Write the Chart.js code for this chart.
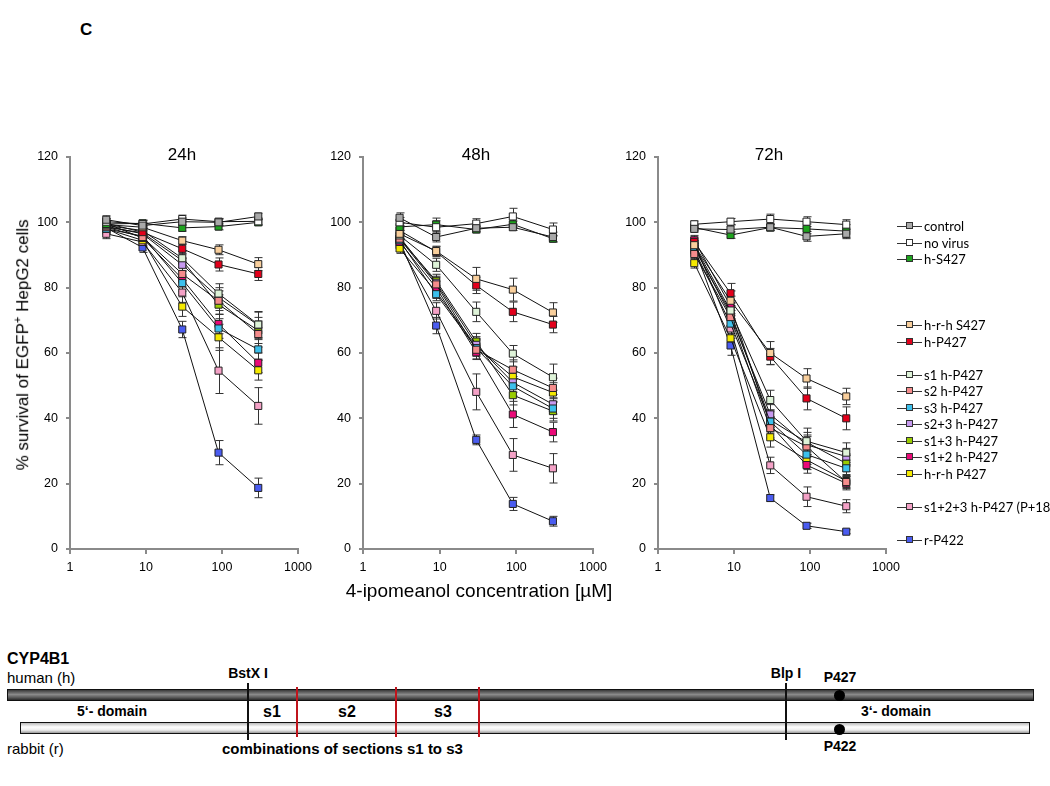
<!DOCTYPE html>
<html>
<head>
<meta charset="utf-8">
<title>4-ipomeanol survival</title>
<script src="https://cdn.jsdelivr.net/npm/chart.js@4.4.1/dist/chart.umd.min.js"></script>
<style>
  html, body { margin: 0; padding: 0; background: #fff; }
  body { width: 1050px; height: 786px; position: relative; overflow: hidden;
         font-family: "Liberation Sans", Arial, sans-serif; color: #000; }
  canvas { position: absolute; }
  .abs { position: absolute; white-space: nowrap; }
  .panel-title { font-size: 17px; width: 100px; text-align: center; }
  .bold { font-weight: bold; }
  #legend { position: absolute; left: 897px; top: 218px; font-family: Lato, "Open Sans", sans-serif; font-size: 13px; }
  .lg-item { position: absolute; left: 0; height: 16px; line-height: 16px; white-space: nowrap; }
  .lg-sym { position: absolute; left: 0; top: 8px; width: 25px; height: 1px; background: #333; }
  .lg-box { position: absolute; left: 9px; top: -4px; width: 7px; height: 7px; border: 1px solid #333; box-sizing: border-box; }
  .lg-text { position: absolute; left: 27px; top: 0; white-space: nowrap; }
  .bar { position: absolute; border: 1px solid #111; box-sizing: border-box; }
  .vline { position: absolute; width: 2px; background: #111; }
  .rline { position: absolute; width: 2px; background: #c0141c; }
  .dot { position: absolute; width: 11px; height: 11px; border-radius: 50%; background: #000; }
</style>
</head>
<body>
<div class="abs bold" style="left:80px;top:20px;font-size:17px;">C</div>

<canvas id="c24" width="320" height="450" style="left:0px;top:140px;"></canvas>
<canvas id="c48" width="310" height="450" style="left:305px;top:140px;"></canvas>
<canvas id="c72" width="308" height="450" style="left:600px;top:140px;"></canvas>

<div class="abs panel-title" style="left:132px;top:145px;">24h</div>
<div class="abs panel-title" style="left:426px;top:145px;">48h</div>
<div class="abs panel-title" style="left:719px;top:145px;">72h</div>

<div class="abs" style="left:-178px;top:334px;width:400px;text-align:center;font-size:17px;transform:rotate(-90deg);">% survival of EGFP<sup style="font-size:11px;">+</sup> HepG2 cells</div>
<div class="abs" style="left:279px;top:580px;width:400px;text-align:center;font-size:19px;">4-ipomeanol concentration [µM]</div>

<div id="legend"></div>

<!-- CYP4B1 construct diagram -->
<div class="abs bold" style="left:7px;top:650px;font-size:16px;">CYP4B1</div>
<div class="abs" style="left:7px;top:669px;font-size:15px;">human (h)</div>
<div class="abs" style="left:7px;top:740px;font-size:15px;">rabbit (r)</div>
<div class="bar" style="left:7px;top:689px;width:1027px;height:12px;background:linear-gradient(#3a3a3a,#8a8a8a 45%,#5a5a5a 75%,#2a2a2a);"></div>
<div class="bar" style="left:20px;top:722px;width:1010px;height:12px;background:linear-gradient(#bbb,#fff 40%,#eee 70%,#999);"></div>
<div class="vline" style="left:247px;top:683px;height:57px;"></div>
<div class="vline" style="left:785px;top:683px;height:57px;"></div>
<div class="rline" style="left:296px;top:687px;height:50px;"></div>
<div class="rline" style="left:395px;top:687px;height:50px;"></div>
<div class="rline" style="left:478px;top:687px;height:50px;"></div>
<div class="dot" style="left:834px;top:690px;"></div>
<div class="dot" style="left:834px;top:724px;"></div>
<div class="abs bold" style="left:218px;top:665px;width:60px;text-align:center;font-size:14px;">BstX I</div>
<div class="abs bold" style="left:756px;top:665px;width:60px;text-align:center;font-size:14px;">Blp I</div>
<div class="abs bold" style="left:810px;top:669px;width:60px;text-align:center;font-size:14px;">P427</div>
<div class="abs bold" style="left:810px;top:738px;width:60px;text-align:center;font-size:14px;">P422</div>
<div class="abs bold" style="left:77px;top:703px;font-size:14px;">5‘- domain</div>
<div class="abs bold" style="left:861px;top:703px;font-size:14px;">3‘- domain</div>
<div class="abs bold" style="left:252px;top:703px;width:40px;text-align:center;font-size:16px;">s1</div>
<div class="abs bold" style="left:327px;top:703px;width:40px;text-align:center;font-size:16px;">s2</div>
<div class="abs bold" style="left:423px;top:703px;width:40px;text-align:center;font-size:16px;">s3</div>
<div class="abs bold" style="left:222px;top:740px;font-size:15px;">combinations of sections s1 to s3</div>

<script>
// concentrations (µM) and axis ticks
const conc = [3, 9, 30, 90, 300];
const xTicks = [1, 10, 100, 1000];

const seriesNames = [
  "control", "no virus", "h-S427", "h-r-h S427", "h-P427",
  "s1 h-P427", "s2 h-P427", "s3 h-P427", "s2+3 h-P427", "s1+3 h-P427",
  "s1+2 h-P427", "h-r-h P427", "s1+2+3 h-P427 (P+18)", "r-P422"
];
const seriesColors = [
  "#a9a9a9", "#ffffff", "#1ea31e", "#f9cf9c", "#e3001b",
  "#def3d8", "#f58c8c", "#3cc0ec", "#c79af0", "#99cc00",
  "#eb0a78", "#f5ea00", "#f4a1c6", "#4a5cf0"
];
// blank legend lines between groups
const legendRows = [0, 1, 2, 6, 7, 9, 10, 11, 12, 13, 14, 15, 17, 19];

// % survival, one row per series (same order as seriesNames)
const surv24 = [
  [100.8, 99.0, 100.2, 100.0, 101.8],
  [100.2, 99.5, 101.0, 100.2, 100.3],
  [99.5, 99.7, 98.3, 98.7, 100.0],
  [99.3, 98.5, 94.4, 91.6, 87.2],
  [99.7, 97.0, 91.9, 87.1, 84.2],
  [99.0, 97.5, 89.0, 78.2, 68.7],
  [98.5, 95.5, 84.2, 76.0, 65.8],
  [98.0, 95.8, 81.4, 67.5, 61.1],
  [98.8, 96.5, 87.0, 77.0, 68.5],
  [98.5, 96.8, 88.3, 74.8, 66.9],
  [99.7, 95.2, 82.7, 68.9, 57.0],
  [98.0, 94.5, 74.2, 64.8, 54.7],
  [96.5, 94.0, 78.5, 54.6, 43.8],
  [98.3, 92.3, 67.2, 29.5, 18.7]
];
const err24 = [
  [1.2, 1, 1.2, 1, 1], [1, 1, 1.2, 1, 1], [1, 1, 1, 1, 1],
  [1, 1, 1.2, 1.5, 2], [1, 1, 1.5, 2, 2], [1.5, 1.5, 2, 3, 4],
  [1.5, 1.5, 2, 3, 4], [1.5, 1.5, 2.5, 3, 3], [1.5, 1.5, 2, 3, 4],
  [1.5, 1.5, 2, 3, 4], [1.5, 1.5, 2.5, 3, 3], [1.5, 1.5, 3, 4, 3],
  [1.5, 1.5, 3, 7, 5.6], [1.5, 1.5, 2.5, 3.7, 3]
];

const surv48 = [
  [101.4, 95.5, 98.2, 98.5, 95.5],
  [100.0, 98.5, 99.6, 101.8, 97.8],
  [98.6, 99.3, 97.8, 99.4, 95.0],
  [96.5, 91.2, 82.7, 79.4, 72.4],
  [97.5, 91.0, 80.7, 72.6, 68.7],
  [96.0, 87.0, 72.6, 59.8, 52.6],
  [95.0, 81.0, 61.0, 54.9, 49.3],
  [94.5, 78.0, 61.5, 49.8, 43.0],
  [95.5, 81.5, 62.5, 51.0, 44.3],
  [95.0, 82.1, 63.5, 47.1, 42.2],
  [94.0, 80.0, 60.2, 41.2, 35.8],
  [92.0, 78.7, 62.0, 52.7, 47.9],
  [93.0, 72.9, 48.1, 28.8, 24.7],
  [94.3, 68.4, 33.4, 13.8, 8.5]
];
const err48 = [
  [1.5, 1.5, 1, 1, 1.5], [1.5, 2, 1.5, 2.5, 2], [1, 2, 1, 1, 1],
  [1.5, 1.5, 3.5, 3.5, 3], [1.5, 1.5, 2.5, 3, 2.5], [1.5, 2, 3, 2.5, 4],
  [1.5, 2, 3, 3, 3], [1.5, 2, 2.5, 3, 3], [1.5, 2, 2.5, 3, 3],
  [1.5, 2, 2.5, 3, 3], [1.5, 2, 2, 4, 3], [1.5, 2, 2.5, 3, 3],
  [2, 2.5, 5.5, 5, 4.5], [2, 2.5, 1.5, 2, 1.5]
];

const surv72 = [
  [98.0, 97.8, 98.5, 95.7, 96.5],
  [99.4, 100.2, 101.0, 100.2, 99.3],
  [98.4, 96.1, 98.4, 98.0, 97.3],
  [93.0, 76.0, 60.0, 52.2, 46.7],
  [94.0, 78.3, 58.9, 46.1, 40.0],
  [93.0, 73.0, 45.6, 33.0, 29.5],
  [90.3, 71.0, 37.0, 31.4, 20.5],
  [91.5, 69.0, 39.0, 28.9, 24.7],
  [92.5, 71.5, 41.2, 31.9, 28.3],
  [92.0, 72.4, 39.5, 32.7, 26.2],
  [94.5, 74.4, 38.0, 25.7, 20.1],
  [87.5, 64.5, 34.2, 27.3, 20.8],
  [93.6, 67.5, 25.6, 16.0, 13.1],
  [92.1, 62.3, 15.6, 7.1, 5.3]
];
const err72 = [
  [1, 1.5, 1, 1.5, 1.5], [1, 1, 1.5, 1.5, 1.5], [1, 1, 1, 1.5, 2],
  [1.5, 3, 3.5, 3, 2.5], [1.5, 3, 2.5, 3.5, 3.5], [1.5, 3, 3, 4, 3],
  [1.5, 3, 3, 3, 2], [1.5, 3, 3, 3, 2.5], [1.5, 3, 3, 3, 2.5],
  [1.5, 3, 3, 3, 2.5], [1.5, 3, 2.5, 2.5, 2], [1.5, 3, 3, 3, 2],
  [1.5, 3, 2.5, 3, 2], [1.5, 3, 1, 0.8, 0.6]
];

const tickFont = { family: "'Liberation Sans', Arial, sans-serif", size: 12.5 };
const axisGrey = "#8a8a8a";

// error bars drawn from the err arrays through the chart scales
function errorBars(errs) {
  return {
    id: "errorBars",
    beforeDatasetsDraw(chart) {
      const ctx = chart.ctx;
      const xs = chart.scales.x, ys = chart.scales.y;
      ctx.save();
      ctx.strokeStyle = "#333";
      ctx.lineWidth = 1;
      chart.data.datasets.forEach((ds, i) => {
        ds.data.forEach((p, j) => {
          const e = errs[i][j];
          const px = Math.round(xs.getPixelForValue(p.x)) + 0.5;
          const top = ys.getPixelForValue(p.y + e);
          const bot = ys.getPixelForValue(p.y - e);
          ctx.beginPath();
          ctx.moveTo(px, top); ctx.lineTo(px, bot);
          ctx.moveTo(px - 4, top); ctx.lineTo(px + 4, top);
          ctx.moveTo(px - 4, bot); ctx.lineTo(px + 4, bot);
          ctx.stroke();
        });
      });
      ctx.restore();
    }
  };
}

function makePanel(canvasId, values, errs, yAxisWidth) {
  const canvas = document.getElementById(canvasId);
  new Chart(canvas, {
    type: "line",
    data: {
      datasets: seriesNames.map((name, i) => ({
        label: name,
        data: conc.map((c, j) => ({ x: c, y: values[i][j] })),
        borderColor: "#111",
        borderWidth: 1,
        backgroundColor: seriesColors[i],
        pointBackgroundColor: seriesColors[i],
        pointBorderColor: "#222",
        pointBorderWidth: 1,
        pointStyle: "rect",
        pointRadius: 5,
        tension: 0,
        fill: false
      }))
    },
    options: {
      responsive: false,
      animation: false,
      layout: { padding: { top: 17, right: 22, bottom: 0, left: 0 } },
      plugins: { legend: { display: false }, tooltip: { enabled: false } },
      scales: {
        x: {
          type: "logarithmic",
          min: 1,
          max: 1000,
          afterBuildTicks: s => { s.ticks = xTicks.map(v => ({ value: v })); },
          afterFit: s => { s.height = 41; },
          ticks: { callback: v => String(v), color: "#000", font: tickFont, maxRotation: 0, padding: 6 },
          grid: { drawOnChartArea: false, drawTicks: true, tickLength: 5, color: axisGrey, lineWidth: 2 },
          border: { display: true, color: axisGrey, width: 2 }
        },
        y: {
          min: 0,
          max: 120,
          afterFit: s => { s.width = yAxisWidth; },
          ticks: { stepSize: 20, color: "#000", font: tickFont, padding: 8 },
          grid: { drawOnChartArea: false, drawTicks: true, tickLength: 4, color: axisGrey, lineWidth: 2 },
          border: { display: true, color: axisGrey, width: 2 }
        }
      }
    },
    plugins: [errorBars(errs)]
  });
}

makePanel("c24", surv24, err24, 70);
makePanel("c48", surv48, err48, 58);
makePanel("c72", surv72, err72, 58);

// legend with the same symbols as the plotted series
const legend = document.getElementById("legend");
seriesNames.forEach((name, i) => {
  const item = document.createElement("div");
  item.className = "lg-item";
  item.style.top = (legendRows[i] * 16.5) + "px";
  const sym = document.createElement("div");
  sym.className = "lg-sym";
  const box = document.createElement("div");
  box.className = "lg-box";
  box.style.background = seriesColors[i];
  sym.appendChild(box);
  const txt = document.createElement("div");
  txt.className = "lg-text";
  txt.textContent = name;
  item.appendChild(sym);
  item.appendChild(txt);
  legend.appendChild(item);
});
</script>
</body>
</html>
